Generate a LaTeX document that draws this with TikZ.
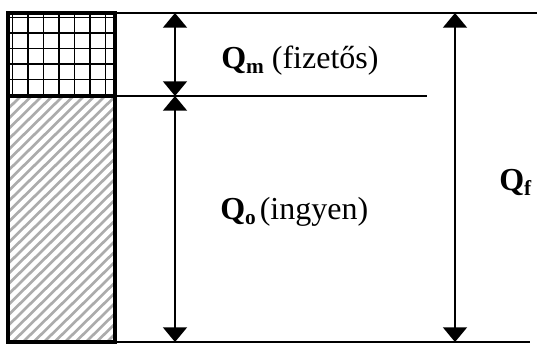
\documentclass[tikz,border=0pt]{standalone}
\usepackage{fontspec}
\setmainfont{Liberation Serif}
\usetikzlibrary{arrows.meta}

\begin{document}
\begin{tikzpicture}[x=0.75pt,y=0.75pt,yscale=-1,xscale=1,
  dimarrow/.style={line width=1.1pt,{Triangle[width=18pt,length=11pt]}-{Triangle[width=18pt,length=11pt]}},
  levelline/.style={line width=0.8pt},
  gridline/.style={line width=1.4pt},
  hatchline/.style={line width=2pt,gray!65},
  qlabel/.style={anchor=base west,inner sep=0pt,font=\fontsize{24}{28}\selectfont}]
\useasboundingbox (0,0) rectangle (537,347);

%Levels
\coordinate (topL) at (115,13);
\coordinate (midL) at (115,96);
\coordinate (botL) at (115,342);
\coordinate (topR) at (537,13);
\coordinate (midR) at (427,96);
\coordinate (botR) at (530,342);

%Shape: hatched part (ingyen)
\begin{scope}
\clip (8,96) rectangle (115,342);
\foreach \i in {0,10.5,...,370} {
  \draw [hatchline] (\i-250,342) -- (\i,96);
}
\end{scope}

%Shape: grid part (fizetos)
\foreach \gx in {12.5,28,43.5,59,74.5,90,105.5} {
  \draw [gridline] (\gx,13) -- (\gx,96);
}
\foreach \gy in {17.5,33,48.5,64,79.5} {
  \draw [gridline] (8,\gy) -- (115,\gy);
}

%Shape: column frame
\draw [line width=2.3pt] (8,13) rectangle (115,342);
\draw [line width=2.3pt] (8,96) -- (115,96);

%Level lines
\draw [levelline] (topL) -- (topR);
\draw [levelline] (midL) -- (midR);
\draw [levelline] (botL) -- (botR);

%Dimension arrows
\coordinate (m1) at (175,13);
\coordinate (m2) at (175,96);
\coordinate (o2) at (175,342);
\coordinate (f1) at (455,13);
\coordinate (f2) at (455,342);
\draw [dimarrow] (m1) -- (m2);
\draw [dimarrow] (m2) -- (o2);
\draw [dimarrow] (f1) -- (f2);

%Labels
\node [qlabel] (qm) at (221,68) {\textbf{Q}\raisebox{-4pt}{\fontsize{16}{19}\selectfont\textbf{m}} (fizetős)};
\node [qlabel] (qo) at (220,219) {\textbf{Q}\raisebox{-4pt}{\fontsize{16}{19}\selectfont\textbf{o}}\hspace{3pt}(ingyen)};
\node [qlabel] (qf) at (499,190) {\textbf{Q}\raisebox{-4pt}{\fontsize{16}{19}\selectfont\textbf{f}}};

\end{tikzpicture}
\end{document}
